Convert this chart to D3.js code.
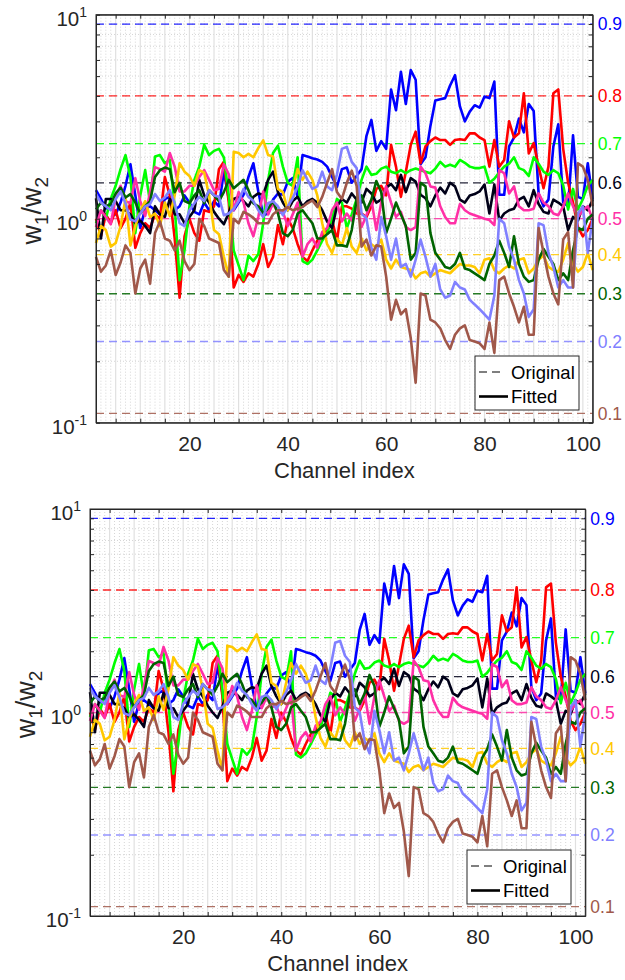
<!DOCTYPE html>
<html>
<head>
<meta charset="utf-8">
<script src="https://cdn.jsdelivr.net/npm/d3@7"></script>
<style>
  body { margin: 0; background: #fff; }
  svg { display: block; font-family: "Liberation Sans", Arial, sans-serif; }
</style>
</head>
<body>
<svg id="chart" width="625" height="980"></svg>
<script>
// channel index 1..102
const channels = d3.range(1, 103);

// original mixing proportions and their colours (w1/w2 = p/(1-p))
const levels = [0.9, 0.8, 0.7, 0.6, 0.5, 0.4, 0.3, 0.2, 0.1];
const levelColors = ['#0000ff', '#ff0000', '#00ff00', '#000018', '#ff2fa6',
                     '#ffc800', '#006400', '#8080ff', '#a0584a'];

// fitted w1/w2 per channel
const fitted09 = [1.38,1.25,1.12,1.18,1.05,1.20,1.45,1.85,1.30,0.90,
  1.12,1.15,1.10,1.05,1.25,1.28,1.10,1.15,1.30,1.20,
  1.08,1.05,1.20,1.10,1.22,1.15,1.70,1.25,1.10,1.20,
  1.31,1.60,1.87,1.36,1.04,1.06,1.24,1.33,1.31,1.52,
  1.58,1.28,2.05,2.02,1.98,1.95,1.90,1.80,1.60,1.43,
  1.75,1.78,1.50,1.62,1.75,2.55,3.05,2.15,2.40,2.20,
  4.30,3.40,5.25,3.65,5.35,4.80,1.85,2.00,2.85,3.80,
  3.85,3.90,4.50,5.05,3.55,3.00,3.35,3.60,3.50,3.97,
  3.90,4.70,1.31,1.31,2.26,2.50,3.10,2.65,3.65,3.37,
  1.33,1.15,1.24,2.26,2.90,1.20,1.15,2.56,1.28,1.25,
  1.87,1.24];
const fitted08 = [1.00,0.82,1.05,0.95,1.10,0.90,1.00,1.20,0.72,0.85,
  0.95,0.90,1.05,1.00,1.60,1.30,0.80,0.41,0.82,1.00,
  0.85,0.78,1.10,1.08,1.15,1.75,1.90,1.20,0.46,0.53,
  0.49,0.54,0.52,0.60,0.75,0.58,0.65,0.93,0.75,1.00,
  0.90,0.75,0.65,0.62,0.70,0.78,0.82,0.88,0.99,0.78,
  1.15,1.15,1.12,1.06,1.06,1.02,1.15,1.40,1.45,1.30,
  2.30,1.80,1.28,1.70,2.30,2.67,1.87,2.26,2.40,2.50,
  2.43,2.43,2.30,2.43,2.45,2.43,2.62,2.62,2.50,2.43,
  1.80,2.43,1.80,1.94,3.00,2.50,2.62,4.12,2.09,2.35,
  1.80,1.41,1.80,4.12,4.30,2.20,1.50,1.20,0.91,0.82,
  0.88,1.00];
const fitted07 = [0.95,1.10,1.00,1.25,1.45,1.75,2.05,1.60,0.85,1.30,
  1.73,1.20,2.02,2.05,1.87,1.95,1.15,0.50,0.70,1.15,
  1.55,1.80,2.30,2.05,2.15,2.20,2.00,1.30,0.70,0.59,
  0.50,0.66,0.62,0.67,0.95,1.55,2.10,2.28,1.80,1.50,
  1.45,2.00,0.62,0.60,0.63,0.70,0.78,0.85,1.00,1.25,
  1.20,0.90,1.05,1.25,1.55,1.80,1.64,1.66,1.76,1.80,
  1.70,1.67,1.73,1.67,1.73,1.76,1.73,1.70,1.67,1.76,
  1.90,1.80,1.84,1.80,1.94,1.88,1.80,1.77,1.77,1.80,
  1.50,1.57,1.69,1.80,1.86,2.00,1.77,1.73,1.62,2.00,
  1.86,1.70,1.64,1.73,1.67,1.46,1.11,1.40,1.11,1.25,
  1.45,1.55];
const fitted06 = [1.26,0.80,1.25,1.25,1.22,1.10,1.10,1.05,0.95,0.98,
  0.92,0.85,1.15,1.05,1.02,1.25,1.05,1.05,0.95,1.02,
  1.10,1.55,1.30,1.20,1.08,1.00,0.94,1.07,1.25,1.28,
  1.22,1.15,1.28,1.33,1.31,1.55,1.70,1.35,1.20,1.10,
  1.22,1.28,1.15,1.22,1.25,1.20,1.10,0.97,0.90,1.15,
  1.25,1.20,1.33,1.24,1.20,1.40,1.33,1.20,1.24,1.42,
  1.48,1.38,1.64,1.35,1.58,1.52,1.31,1.26,1.15,1.30,
  1.42,1.33,1.50,1.44,1.24,1.20,1.30,1.32,1.36,1.47,
  1.06,1.47,0.98,1.06,1.10,1.12,1.24,1.28,1.15,1.38,
  1.18,1.08,1.06,1.24,1.20,1.15,0.88,1.02,0.98,1.15,
  1.10,1.24];
const fitted05 = [0.91,1.10,1.02,0.94,1.28,1.45,1.22,1.19,1.58,1.22,
  1.03,1.35,1.79,1.75,1.70,2.10,1.80,1.36,1.36,1.45,
  1.45,1.60,1.73,1.55,1.38,1.40,1.85,1.65,1.10,1.35,
  1.20,0.95,0.82,1.02,1.36,1.05,1.19,1.06,1.08,0.92,
  1.05,1.20,0.65,0.75,0.80,0.72,0.86,0.90,1.10,1.20,
  0.97,1.06,0.98,1.15,0.91,1.04,1.24,0.88,1.20,1.44,
  1.20,1.02,1.08,0.91,0.88,0.91,1.80,1.67,1.44,1.42,
  1.15,1.02,0.95,0.95,1.18,1.10,1.06,1.04,1.02,1.00,
  0.985,0.93,1.73,1.67,1.33,1.44,1.15,1.10,1.10,1.12,
  1.33,1.20,1.15,1.06,1.04,1.15,1.33,1.15,1.02,1.10,
  1.15,0.99];
const fitted04 = [0.76,0.92,0.88,0.73,0.76,0.92,1.25,0.74,0.92,1.10,
  1.22,1.02,1.06,0.92,1.20,1.03,1.30,1.87,1.70,1.62,
  1.45,1.73,1.68,1.30,0.88,0.84,0.65,0.52,2.13,2.10,
  2.00,2.08,2.00,2.22,2.42,2.05,2.02,1.40,1.35,1.10,
  1.40,1.75,1.55,1.70,1.55,1.30,0.95,0.75,0.68,0.80,
  0.74,0.90,0.73,0.68,0.80,0.70,0.75,0.72,0.79,0.63,
  0.57,0.63,0.58,0.57,0.56,0.51,0.54,0.55,0.52,0.54,
  0.56,0.55,0.54,0.57,0.60,0.59,0.59,0.58,0.54,0.63,
  0.64,0.56,0.54,0.57,0.59,0.57,0.63,0.64,0.54,0.57,
  0.63,0.66,0.58,0.56,0.55,0.63,0.76,0.60,0.55,0.58,
  0.68,0.56];
const fitted03 = [1.11,1.20,1.15,1.18,1.33,1.42,1.27,1.32,1.20,1.06,
  1.15,1.22,1.60,1.73,1.78,1.75,1.35,1.50,1.22,1.19,
  1.30,1.38,1.19,1.38,1.30,1.22,1.35,1.55,1.41,1.48,
  1.55,1.38,1.19,1.15,1.06,1.12,1.22,1.06,0.85,0.82,
  0.88,1.06,1.10,1.02,0.95,0.80,0.80,0.84,0.88,0.74,
  0.74,0.73,0.88,1.24,1.30,1.10,1.24,1.53,1.35,0.85,
  1.00,1.20,1.05,0.92,0.63,0.68,1.50,1.44,0.85,0.68,
  0.63,0.58,0.57,0.60,0.68,0.57,0.56,0.54,0.52,0.50,
  0.60,0.66,0.78,0.68,0.58,0.82,0.60,0.52,0.49,0.50,
  0.63,0.71,0.65,0.60,0.50,0.54,0.50,0.70,0.90,0.88,
  1.00,1.05];
const fitted02 = [1.32,1.20,1.15,1.10,1.25,1.36,1.19,0.99,0.97,1.06,
  1.15,1.18,1.32,1.22,1.27,1.38,1.19,0.95,0.92,1.10,
  1.19,1.28,1.22,1.38,1.30,1.28,1.04,1.06,1.12,1.22,
  1.40,1.28,1.22,1.10,1.02,1.19,1.22,1.15,1.04,1.15,
  1.26,1.44,1.73,1.55,1.40,1.44,1.70,1.44,1.38,1.65,
  2.20,2.25,1.90,1.77,1.06,1.00,0.72,0.63,1.02,0.82,
  0.63,0.80,0.58,0.60,0.52,0.63,0.79,0.65,0.52,0.60,
  0.45,0.41,0.42,0.49,0.46,0.45,0.40,0.38,0.36,0.34,
  0.32,0.42,1.00,0.95,0.73,0.63,0.50,0.43,0.33,0.36,
  0.95,0.93,0.68,0.58,0.46,0.50,0.46,0.46,1.06,1.15,
  0.68,1.00];
const fitted01 = [0.65,0.55,0.59,0.70,0.53,0.61,0.74,0.68,0.43,0.57,
  0.63,0.48,0.85,0.97,0.80,0.78,0.70,0.78,0.62,0.56,
  0.60,1.00,0.92,0.80,0.78,0.76,0.56,0.52,1.00,0.95,
  1.08,1.05,1.01,0.95,0.95,0.95,1.05,1.10,1.10,1.14,
  1.10,1.12,1.14,1.19,1.23,1.14,1.28,1.50,1.75,1.35,
  1.25,1.50,1.72,1.45,0.73,0.79,0.66,0.74,0.73,0.52,
  0.32,0.40,0.34,0.36,0.26,0.157,0.43,0.42,0.32,0.31,
  0.29,0.254,0.23,0.27,0.29,0.30,0.254,0.25,0.245,0.23,
  0.31,0.22,0.50,0.52,0.43,0.37,0.31,0.37,0.27,0.27,
  0.90,0.68,0.52,0.43,0.38,0.79,0.86,0.46,1.87,1.80,
  1.55,1.15];

const fittedSeries = [fitted09, fitted08, fitted07, fitted06, fitted05,
                      fitted04, fitted03, fitted02, fitted01];

const xTickLabels = [20, 40, 60, 80, 100];
const legendLabels = ['Original', 'Fitted'];

const AXIS_COLOR = '#262626';
const svg = d3.select('#chart');

const panels = [
  { left: 96, right: 592.7, top: 14.7, bottom: 422.7, legendX: 475, legendY: 356 },
  { left: 90, right: 585.3, top: 509, bottom: 916, legendX: 467, legendY: 850 }
];

function drawPanel(p) {
  const g = svg.append('g');
  const x = d3.scaleLinear().domain([1, 102]).range([p.left, p.right]);
  const y = d3.scaleLog().domain([0.1, 10]).range([p.bottom, p.top]);

  const majorX = d3.range(5, 101, 5);
  const minorX = d3.range(2, 102).filter(d => d % 5 !== 0);
  const minorY = [2, 3, 4, 5, 6, 7, 8, 9].flatMap(k => [k / 10, k]);
  const allY = [0.1, 1, 10].concat(minorY);

  // dotted minor grid
  g.append('g').selectAll('line').data(minorX).join('line')
    .attr('x1', d => x(d)).attr('x2', d => x(d))
    .attr('y1', p.top).attr('y2', p.bottom)
    .attr('stroke', '#c4c4c4').attr('stroke-width', 0.7)
    .attr('stroke-dasharray', '1,2');
  g.append('g').selectAll('line').data(minorY).join('line')
    .attr('x1', p.left).attr('x2', p.right)
    .attr('y1', d => y(d)).attr('y2', d => y(d))
    .attr('stroke', '#c4c4c4').attr('stroke-width', 0.7)
    .attr('stroke-dasharray', '1,2');
  // solid major grid
  g.append('g').selectAll('line').data(majorX).join('line')
    .attr('x1', d => x(d)).attr('x2', d => x(d))
    .attr('y1', p.top).attr('y2', p.bottom)
    .attr('stroke', '#e0e0e0').attr('stroke-width', 1.2);
  g.append('line')
    .attr('x1', p.left).attr('x2', p.right)
    .attr('y1', y(1)).attr('y2', y(1))
    .attr('stroke', '#e0e0e0').attr('stroke-width', 1.2);

  // original (dashed) levels
  g.append('g').selectAll('line').data(levels).join('line')
    .attr('x1', p.left).attr('x2', p.right)
    .attr('y1', d => y(d / (1 - d))).attr('y2', d => y(d / (1 - d)))
    .attr('stroke', (d, i) => levelColors[i])
    .attr('stroke-opacity', 0.85)
    .attr('stroke-width', 1.3)
    .attr('stroke-dasharray', '8,5');

  // fitted lines
  const line = d3.line().x(d => x(d[0])).y(d => y(d[1]));
  g.append('g').selectAll('path').data(fittedSeries).join('path')
    .attr('d', s => line(channels.map((c, i) => [c, s[i]])))
    .attr('fill', 'none')
    .attr('stroke', (s, i) => levelColors[i])
    .attr('stroke-width', 2.6)
    .attr('stroke-linejoin', 'round');

  // axes, ticks pointing inward
  const styleAxis = a => {
    a.select('.domain').attr('stroke', AXIS_COLOR).attr('stroke-width', 1);
    a.selectAll('.tick line').attr('stroke', AXIS_COLOR);
    a.selectAll('text').attr('fill', AXIS_COLOR);
  };
  g.append('g').attr('transform', `translate(0,${p.bottom})`)
    .call(d3.axisBottom(x).tickValues(majorX).tickSizeInner(-4).tickSizeOuter(0)
      .tickPadding(13).tickFormat(d => xTickLabels.includes(d) ? d : ''))
    .call(styleAxis)
    .call(a => a.selectAll('text').attr('font-size', 21).attr('font-family', null));
  g.append('g').attr('transform', `translate(0,${p.top})`)
    .call(d3.axisTop(x).tickValues(majorX).tickSizeInner(-4).tickSizeOuter(0).tickFormat(''))
    .call(styleAxis);
  g.append('g').attr('transform', `translate(${p.left},0)`)
    .call(d3.axisLeft(y).tickValues(allY).tickSizeInner(-4).tickSizeOuter(0).tickFormat(''))
    .call(styleAxis);
  g.append('g').attr('transform', `translate(${p.right},0)`)
    .call(d3.axisRight(y).tickValues(allY).tickSizeInner(-4).tickSizeOuter(0).tickFormat(''))
    .call(styleAxis);
  g.append('rect')
    .attr('x', p.left).attr('y', p.top)
    .attr('width', p.right - p.left).attr('height', p.bottom - p.top)
    .attr('fill', 'none').attr('stroke', AXIS_COLOR).attr('stroke-width', 1);

  // decade labels 10^n
  [-1, 0, 1].forEach(e => {
    const t = g.append('text')
      .attr('x', p.left - 9).attr('y', y(Math.pow(10, e)) + 11)
      .attr('text-anchor', 'end').attr('fill', AXIS_COLOR).attr('font-size', 20.5);
    t.append('tspan').text('10');
    t.append('tspan').attr('dy', -9).attr('font-size', 14).text(e);
  });

  // level labels on the right
  g.append('g').selectAll('text').data(levels).join('text')
    .attr('x', p.right + 5)
    .attr('y', d => y(d / (1 - d)))
    .attr('dy', '0.36em')
    .attr('font-size', 17.5)
    .attr('fill', (d, i) => levelColors[i])
    .text(d => d.toFixed(1));

  // axis titles
  g.append('text')
    .attr('x', (p.left + p.right) / 2).attr('y', p.bottom + 55)
    .attr('text-anchor', 'middle').attr('font-size', 22).attr('fill', AXIS_COLOR)
    .text('Channel index');
  const yl = g.append('text')
    .attr('transform', `translate(${p.left - 55},${(p.top + p.bottom) / 2 - 8}) rotate(-90)`)
    .attr('text-anchor', 'middle').attr('font-size', 27).attr('fill', AXIS_COLOR);
  yl.append('tspan').text('w');
  yl.append('tspan').attr('font-size', 19).attr('dy', 7).text('1');
  yl.append('tspan').attr('dy', -7).text('/w');
  yl.append('tspan').attr('font-size', 19).attr('dy', 7).text('2');

  // legend
  const lg = g.append('g').attr('transform', `translate(${p.legendX},${p.legendY})`);
  lg.append('rect').attr('width', 104).attr('height', 54)
    .attr('fill', '#fff').attr('stroke', AXIS_COLOR).attr('stroke-width', 1);
  legendLabels.forEach((lab, i) => {
    const yy = 16 + i * 24.5;
    lg.append('line').attr('x1', 4).attr('x2', i === 0 ? 30 : 33)
      .attr('y1', yy).attr('y2', yy)
      .attr('stroke', i === 0 ? '#555' : '#000')
      .attr('stroke-width', i === 0 ? 1.3 : 2.6)
      .attr('stroke-dasharray', i === 0 ? '8,5' : null);
    lg.append('text').attr('x', 36).attr('y', yy).attr('dy', '0.36em')
      .attr('font-size', 18.5).attr('fill', '#000').text(lab);
  });
}

panels.forEach(drawPanel);
</script>
</body>
</html>
